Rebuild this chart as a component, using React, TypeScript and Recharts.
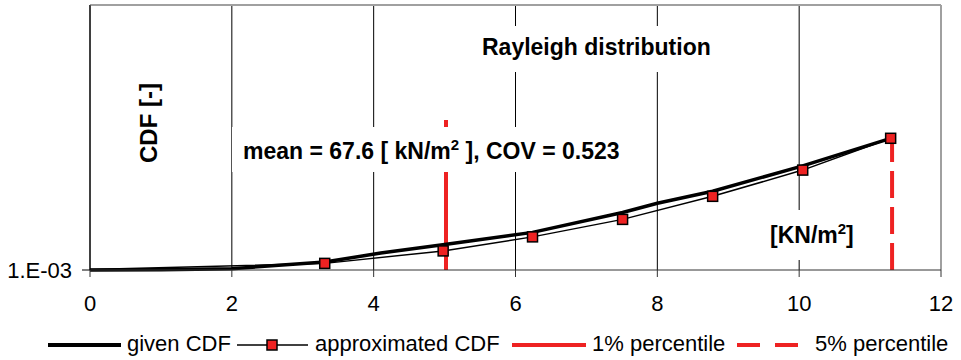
import React from "react";
import { LineChart, Line, XAxis, YAxis, CartesianGrid, ReferenceLine } from "recharts";

const xTicks = [0, 2, 4, 6, 8, 10, 12];
const yTickLabel = "1.E-03";

const givenX = [0, 1, 2, 3.31, 4.1, 5, 6.24, 7.51, 8, 8.78, 10.05, 11.29];
const givenY = [0, 0.1, 0.5, 3.0, 6.4, 9.6, 14.2, 21.7, 25.2, 29.7, 39.3, 49.7];

const approxX = [0, 3.31, 4.98, 6.24, 7.51, 8.78, 10.05, 11.29];
const approxY = [0.2, 2.5, 7.2, 12.5, 19.1, 27.8, 37.7, 49.7];

const p1X = [5.02, 5.02];
const p1Y = [0, 56.6];
const p5X = [11.31, 11.31];
const p5Y = [0, 49.7];

const seriesNames = ["given CDF", "approximated CDF", "1% percentile", "5% percentile"];

const zip = (xs: number[], ys: number[]) => xs.map((x, i) => ({ x, y: ys[i] }));
const givenData = zip(givenX, givenY);
const approxData = zip(approxX, approxY);
const p1Data = zip(p1X, p1Y);
const p5Data = zip(p5X, p5Y);

const RED = "#ee2222";
const FONT = "'Liberation Sans', Arial, sans-serif";

const SquareDot = (props: any) => {
  const { cx, cy, index } = props;
  if (index === 0 || cx == null || cy == null) return <g key={`d${index}`} />;
  return (
    <rect key={`d${index}`} x={cx - 5} y={cy - 5} width={10} height={10} fill={RED} stroke="#000" strokeWidth={1.5} />
  );
};

export default function App() {
  return (
    <div style={{ position: "absolute", left: 0, top: 0, width: 961, height: 360, background: "#fff", fontFamily: FONT }}>
      <LineChart width={961} height={360} margin={{ top: 5, right: 20, bottom: 60, left: 10 }}>
        <CartesianGrid horizontal={false} stroke="#000" strokeWidth={1} />
        <XAxis
          type="number"
          dataKey="x"
          domain={[0, 12]}
          ticks={xTicks}
          height={30}
          tickSize={7}
          tickMargin={18}
          stroke="#333"
          tick={{ fill: "#000", fontSize: 22, fontFamily: FONT }}
          allowDuplicatedCategory={false}
        />
        <YAxis
          type="number"
          dataKey="y"
          domain={[0, 100]}
          ticks={[0]}
          width={80}
          tickSize={8}
          tickMargin={10}
          stroke="#000"
          tickFormatter={() => yTickLabel}
          tick={{ fill: "#000", fontSize: 22, fontFamily: FONT }}
        />
        <ReferenceLine y={100} stroke="#a0a0a0" strokeWidth={2} />
        <ReferenceLine x={12} stroke="#a0a0a0" strokeWidth={2} />
        <Line data={p1Data} dataKey="y" name={seriesNames[2]} stroke={RED} strokeWidth={4} dot={false} isAnimationActive={false} />
        <Line data={p5Data} dataKey="y" name={seriesNames[3]} stroke={RED} strokeWidth={4} strokeDasharray="27 9" dot={false} isAnimationActive={false} />
        <Line data={givenData} dataKey="y" name={seriesNames[0]} stroke="#000" strokeWidth={3.5} dot={false} isAnimationActive={false} />
        <Line data={approxData} dataKey="y" name={seriesNames[1]} stroke="#000" strokeWidth={1.5} dot={SquareDot} isAnimationActive={false} />
      </LineChart>
      <svg width={961} height={360} style={{ position: "absolute", left: 0, top: 0, pointerEvents: "none" }} fontFamily={FONT}>
        {/* annotation boxes */}
        <rect x={470} y={26} width={252} height={46} fill="#fff" />
        <text x={482} y={55} fontSize={23} fontWeight="bold" fill="#000">Rayleigh distribution</text>

        <rect x={232} y={127} width={405} height={45} fill="#fff" />
        <text x={243} y={159} fontSize={23} fontWeight="bold" fill="#000">
          mean = 67.6 [ kN/m<tspan fontSize={15} dy={-9}>2</tspan>
          <tspan dy={9}> ], COV = 0.523</tspan>
        </text>

        <rect x={764} y={210} width={98} height={50} fill="#fff" />
        <text x={770} y={243} fontSize={23} fontWeight="bold" fill="#000">
          [KN/m<tspan fontSize={15} dy={-9}>2</tspan>
          <tspan dy={9}>]</tspan>
        </text>

        <text transform="translate(157,163) rotate(-90)" fontSize={24} fontWeight="bold" fill="#000">CDF [-]</text>

        {/* legend */}
        <line x1={48} y1={345} x2={121} y2={345} stroke="#000" strokeWidth={4} />
        <text x={127} y={351} fontSize={22} fill="#000">{seriesNames[0]}</text>
        <line x1={237} y1={345} x2={308} y2={345} stroke="#000" strokeWidth={1.5} />
        <rect x={267} y={340} width={10} height={10} fill={RED} stroke="#000" strokeWidth={1.5} />
        <text x={315} y={351} fontSize={22} fill="#000">{seriesNames[1]}</text>
        <line x1={512} y1={345} x2={586} y2={345} stroke={RED} strokeWidth={4} />
        <text x={592} y={351} fontSize={22} fill="#000">{seriesNames[2]}</text>
        <line x1={737} y1={345} x2={800} y2={345} stroke={RED} strokeWidth={4} strokeDasharray="23 15" />
        <text x={815} y={351} fontSize={22} fill="#000">{seriesNames[3]}</text>
      </svg>
    </div>
  );
}
